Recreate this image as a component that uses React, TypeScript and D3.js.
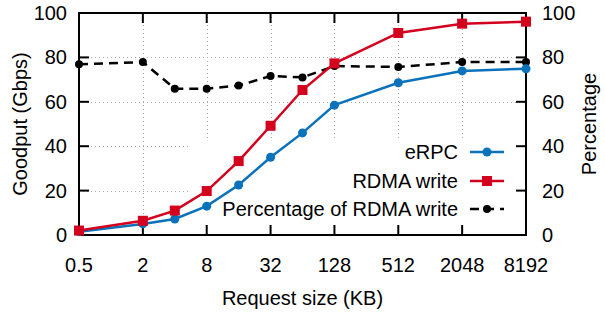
import React, { useRef, useEffect } from "react";
import * as d3 from "d3";

const sizes = [0.5, 2, 4, 8, 16, 32, 64, 128, 512, 2048, 8192];
const erpc = [1.5, 5, 7.2, 13, 22.5, 35, 46, 58.5, 68.6, 73.9, 74.9];
const rdma = [2, 6.4, 11, 19.8, 33.3, 49.2, 65.3, 77.3, 91, 95.2, 96.1];
const percentage = [76.9, 77.9, 65.9, 65.9, 67.3, 71.6, 71, 76.1, 75.7, 77.9, 77.9];
const xTicks = [0.5, 2, 8, 32, 128, 512, 2048, 8192];
const yTicks = [0, 20, 40, 60, 80, 100];

const W = 605;
const H = 313;
const M = { left: 79, right: 526, top: 13, bottom: 235 };
const BLUE = "#0a72ba";
const RED = "#d3001e";
const FONT = "'Liberation Sans', Arial, sans-serif";
const FS = 20;

export default function App() {
  const svgRef = useRef<SVGSVGElement>(null);

  useEffect(() => {
    const svg = d3.select(svgRef.current);
    svg.selectAll("*").remove();

    const x = d3.scaleLog().base(2).domain([0.5, 8192]).range([M.left, M.right]);
    const y = d3.scaleLinear().domain([0, 100]).range([M.bottom, M.top]);
    const y2 = d3.scaleLinear().domain([0, 100]).range([M.bottom, M.top]);

    // legend box area (grid hidden behind it)
    const key = { x0: 190, y0: 138 };

    const grid = svg.append("g").attr("stroke", "#aaa").attr("stroke-width", 1)
      .attr("stroke-dasharray", "1,3");
    yTicks.filter((t) => t > 0 && t < 100).forEach((t) => {
      const yy = Math.round(y(t)) + 0.5;
      const x1 = yy > key.y0 ? key.x0 : M.right;
      grid.append("line").attr("x1", M.left).attr("x2", x1).attr("y1", yy).attr("y2", yy);
    });
    xTicks.filter((t) => t > 0.5 && t < 8192).forEach((t) => {
      const xx = Math.round(x(t)) + 0.5;
      const y2v = xx > key.x0 ? key.y0 : M.bottom;
      grid.append("line").attr("x1", xx).attr("x2", xx).attr("y1", M.top).attr("y2", y2v);
    });

    // frame
    svg.append("rect").attr("x", M.left).attr("y", M.top)
      .attr("width", M.right - M.left).attr("height", M.bottom - M.top)
      .attr("fill", "none").attr("stroke", "#000").attr("stroke-width", 2);

    const ticks = svg.append("g").attr("stroke", "#000").attr("stroke-width", 2);
    const tl = 10;
    xTicks.forEach((t) => {
      const xx = x(t);
      ticks.append("line").attr("x1", xx).attr("x2", xx).attr("y1", M.bottom).attr("y2", M.bottom - tl);
      ticks.append("line").attr("x1", xx).attr("x2", xx).attr("y1", M.top).attr("y2", M.top + tl);
    });
    yTicks.forEach((t) => {
      ticks.append("line").attr("x1", M.left).attr("x2", M.left + tl).attr("y1", y(t)).attr("y2", y(t));
      ticks.append("line").attr("x1", M.right).attr("x2", M.right - tl).attr("y1", y2(t)).attr("y2", y2(t));
    });

    const text = svg.append("g").attr("font-family", FONT).attr("font-size", FS).attr("fill", "#000");
    xTicks.forEach((t) => {
      text.append("text").attr("x", x(t)).attr("y", 272).attr("text-anchor", "middle").text(String(t));
    });
    yTicks.forEach((t) => {
      text.append("text").attr("x", 67).attr("y", y(t) + 7).attr("text-anchor", "end").text(String(t));
      text.append("text").attr("x", 542).attr("y", y2(t) + 7).attr("text-anchor", "start").text(String(t));
    });
    text.append("text").attr("x", (M.left + M.right) / 2).attr("y", 305)
      .attr("text-anchor", "middle").text("Request size (KB)");
    text.append("text").attr("transform", `translate(27,${(M.top + M.bottom) / 2}) rotate(-90)`)
      .attr("text-anchor", "middle").text("Goodput (Gbps)");
    text.append("text").attr("transform", `translate(596,${(M.top + M.bottom) / 2}) rotate(-90)`)
      .attr("text-anchor", "middle").text("Percentage");

    const line = (vals: number[], ys: d3.ScaleLinear<number, number>) =>
      d3.line<number>().x((_, i) => x(sizes[i])).y((v) => ys(v))(vals);

    // percentage
    svg.append("path").attr("d", line(percentage, y2)).attr("fill", "none")
      .attr("stroke", "#000").attr("stroke-width", 2.5).attr("stroke-dasharray", "9,6");
    svg.append("g").selectAll("circle").data(percentage).join("circle")
      .attr("cx", (_, i) => x(sizes[i])).attr("cy", (v) => y2(v)).attr("r", 4).attr("fill", "#000");

    // eRPC
    svg.append("path").attr("d", line(erpc, y)).attr("fill", "none")
      .attr("stroke", BLUE).attr("stroke-width", 2.5);
    svg.append("g").selectAll("circle").data(erpc).join("circle")
      .attr("cx", (_, i) => x(sizes[i])).attr("cy", (v) => y(v)).attr("r", 4.5).attr("fill", BLUE);

    // RDMA
    svg.append("path").attr("d", line(rdma, y)).attr("fill", "none")
      .attr("stroke", RED).attr("stroke-width", 2.5);
    svg.append("g").selectAll("rect").data(rdma).join("rect")
      .attr("x", (_, i) => x(sizes[i]) - 5).attr("y", (v) => y(v) - 5)
      .attr("width", 10).attr("height", 10).attr("fill", RED);

    // legend
    const lx0 = 470, lx1 = 504, lm = 487, ltx = 458;
    const entries = [
      { label: "eRPC", y: 152, color: BLUE, marker: "circle", dash: null },
      { label: "RDMA write", y: 181, color: RED, marker: "square", dash: null },
      { label: "Percentage of RDMA write", y: 209, color: "#000", marker: "dot", dash: "9,6" },
    ];
    const lg = svg.append("g");
    entries.forEach((e) => {
      lg.append("text").attr("x", ltx).attr("y", e.y + 7).attr("text-anchor", "end")
        .attr("font-family", FONT).attr("font-size", FS).text(e.label);
      lg.append("line").attr("x1", lx0).attr("x2", lx1).attr("y1", e.y).attr("y2", e.y)
        .attr("stroke", e.color).attr("stroke-width", 2.5)
        .attr("stroke-dasharray", e.dash ?? null);
      if (e.marker === "circle") lg.append("circle").attr("cx", lm).attr("cy", e.y).attr("r", 4.5).attr("fill", e.color);
      if (e.marker === "square") lg.append("rect").attr("x", lm - 5).attr("y", e.y - 5).attr("width", 10).attr("height", 10).attr("fill", e.color);
      if (e.marker === "dot") lg.append("circle").attr("cx", lm).attr("cy", e.y).attr("r", 4).attr("fill", e.color);
    });
  }, []);

  return (
    <svg ref={svgRef} width={W} height={H} style={{ position: "absolute", left: 0, top: 0, background: "#fff" }} />
  );
}
